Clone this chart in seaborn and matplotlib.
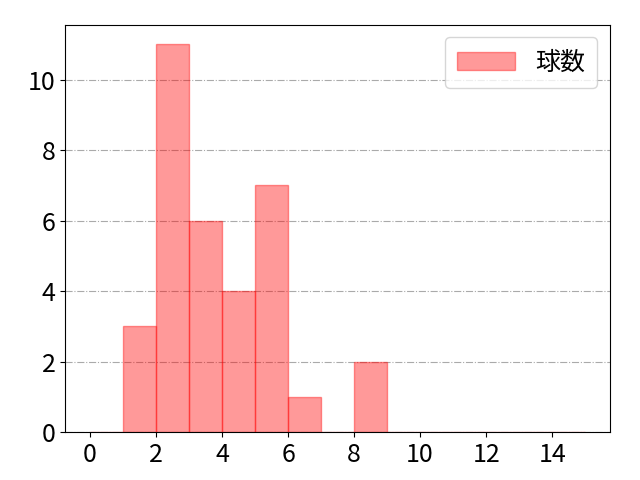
import matplotlib
matplotlib.use("Agg")
import matplotlib.pyplot as plt
import seaborn as sns
import pandas as pd
import numpy as np

# 球数の分布 (ビンの左端と件数)
bin_starts = [0, 1, 2, 3, 4, 5, 6, 7, 8, 9, 10, 11, 12, 13, 14]
counts = [0, 3, 11, 6, 4, 7, 1, 0, 2, 0, 0, 0, 0, 0, 0]
bin_edges = list(range(0, 16))

df = pd.DataFrame({"球数": bin_starts, "件数": counts})

sns.set_style("ticks")
plt.rcParams["font.family"] = ["Noto Sans CJK JP", "DejaVu Sans"]
plt.rcParams["text.color"] = "black"
plt.rcParams["xtick.color"] = "black"
plt.rcParams["ytick.color"] = "black"
plt.rcParams["axes.edgecolor"] = "black"

fig, ax = plt.subplots(figsize=(6.4, 4.8), dpi=100)
sns.histplot(data=df, x="球数", weights="件数", bins=bin_edges,
             color="red", alpha=0.4, edgecolor=(1, 0, 0, 0.4), linewidth=1,
             label="球数", ax=ax)

ax.grid(axis="y", color="#aaaaaa", linestyle="-.", linewidth=0.8)
ax.set_xticks(range(0, 15, 2))
ax.set_xlabel("")
ax.set_ylabel("")
ax.tick_params(labelsize=18)
ax.legend(fontsize=18, handlelength=2.3, borderpad=0.5, loc="upper right")

plt.subplots_adjust(left=0.102, right=0.953, top=0.948, bottom=0.1)
plt.savefig("out.png", dpi=100)
